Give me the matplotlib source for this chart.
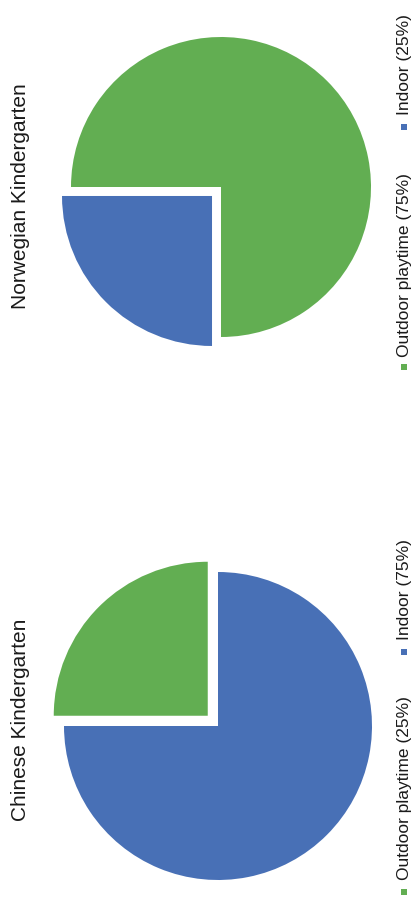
import matplotlib
matplotlib.use("Agg")
from matplotlib import pyplot as plt

# Data
titles = ["Norwegian Kindergarten", "Chinese Kindergarten"]
categories = ["Outdoor playtime", "Indoor"]
shares = [[75, 25], [25, 75]]

greenCol = "#62ae52"
blueCol = "#4870b6"
colors = [greenCol, blueCol]

W, H = 416, 904
fig = plt.figure(figsize=(W / 100, H / 100), dpi=100)
ax = fig.add_axes([0, 0, 1, 1])

# layout per chart (image pixel coords, y measured from top)
centers = [(221, 188), (218, 727)]
radii = [150, 154]
starts = [270, 90]
# explode offsets are in data units (pixels here)
explodes = [[0, 12.7], [14.5, 0]]
titleY = [196, 720]
legendMarkY = [[368, 128], [893, 653]]
legendTextY = [[357, 115], [880, 640]]

for i in range(2):
    cx, cy = centers[i]
    ax.pie(shares[i], colors=colors, startangle=starts[i], counterclock=True,
           center=(cx, H - cy), radius=radii[i], explode=explodes[i],
           wedgeprops=dict(linewidth=0))
    ax.text(21, H - titleY[i], titles[i], rotation=90, ha="center", va="center",
            fontsize=15, family="Liberation Sans", color="#1a1a1a")
    for j in range(2):
        ax.scatter([404], [H - legendMarkY[i][j]], marker="s", s=22, color=colors[j],
                   linewidths=0, zorder=5)
        label = "{} ({}%)".format(categories[j], shares[i][j])
        ax.text(404, H - legendTextY[i][j], label, rotation=90, ha="center", va="bottom",
                fontsize=12.5, family="Liberation Sans", color="#1a1a1a")

ax.set_xlim(0, W)
ax.set_ylim(0, H)
ax.set_aspect("auto")
ax.axis("off")

fig.savefig("out.png", dpi=100)
